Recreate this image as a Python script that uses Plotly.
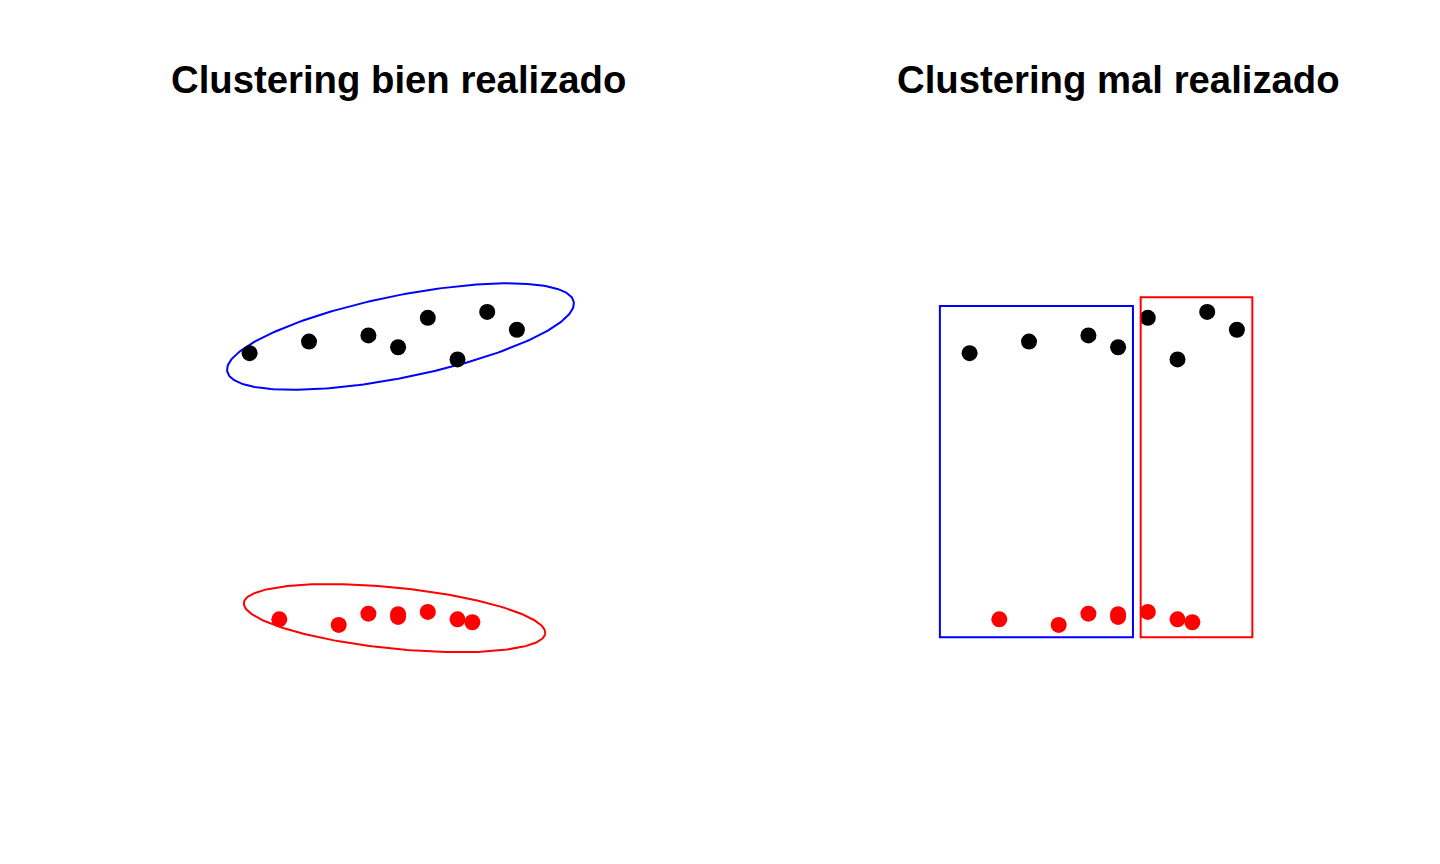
import numpy as np
import plotly.graph_objects as go

# Data
black_x = [1, 3, 5, 6, 7, 8, 9, 10]
black_y = [11.34, 11.73, 11.94, 11.54, 12.53, 11.13, 12.73, 12.13]
red_x = [2, 4, 5, 6, 6, 7, 8, 8.5]
red_y = [2.38, 2.19, 2.57, 2.55, 2.46, 2.63, 2.38, 2.28]

titles = ["Clustering bien realizado", "Clustering mal realizado"]

# Ellipse parameters: center x, center y, semi-major, semi-minor, angle (deg)
ell_blue = (6.08, 11.90, 5.95, 1.38, 11.4)
ell_red = (5.88, 2.42, 5.10, 1.03, -5.8)

# Rectangles: x0, x1, y0, y1
rect_blue = (0.0, 6.5, 1.78, 12.93)
rect_red = (6.76, 10.52, 1.78, 13.22)


def ellipse(cx, cy, a, b, ang):
    t = np.linspace(0, 2 * np.pi, 241)
    th = np.deg2rad(ang)
    x = cx + a * np.cos(th) * np.cos(t) - b * np.sin(th) * np.sin(t)
    y = cy + a * np.sin(th) * np.cos(t) + b * np.cos(th) * np.sin(t)
    return x, y


fig = go.Figure()

# Left panel
for (params, col) in [(ell_blue, "#0000FF"), (ell_red, "#FF0000")]:
    ex, ey = ellipse(*params)
    fig.add_trace(go.Scatter(x=ex, y=ey, mode="lines", line=dict(color=col, width=2),
                             xaxis="x", yaxis="y", showlegend=False, hoverinfo="skip"))
fig.add_trace(go.Scatter(x=black_x, y=black_y, mode="markers",
                         marker=dict(color="black", size=16), xaxis="x", yaxis="y", showlegend=False))
fig.add_trace(go.Scatter(x=red_x, y=red_y, mode="markers",
                         marker=dict(color="#FF0000", size=16), xaxis="x", yaxis="y", showlegend=False))

# Right panel
fig.add_trace(go.Scatter(x=black_x, y=black_y, mode="markers",
                         marker=dict(color="black", size=16), xaxis="x2", yaxis="y2", showlegend=False))
fig.add_trace(go.Scatter(x=red_x, y=red_y, mode="markers",
                         marker=dict(color="#FF0000", size=16), xaxis="x2", yaxis="y2", showlegend=False))

for (r, col) in [(rect_blue, "#0000FF"), (rect_red, "#FF0000")]:
    fig.add_shape(type="rect", x0=r[0], x1=r[1], y0=r[2], y1=r[3], xref="x2", yref="y2",
                  line=dict(color=col, width=2), fillcolor="rgba(0,0,0,0)")

px_per_unit = 29.7
x_left_px = 249.6
xr = [1 - x_left_px / px_per_unit, 1 + (720 - x_left_px) / px_per_unit]
yr = [(690 - 864) / px_per_unit, 690 / px_per_unit]

ax = dict(visible=False, showgrid=False, zeroline=False, fixedrange=True)
fig.update_layout(
    width=1440, height=864,
    margin=dict(l=0, r=0, t=0, b=0),
    paper_bgcolor="white", plot_bgcolor="white",
    xaxis=dict(domain=[0, 0.5], range=xr, **ax),
    yaxis=dict(domain=[0, 1], range=yr, **ax),
    xaxis2=dict(domain=[0.5, 1], range=xr, **ax),
    yaxis2=dict(domain=[0, 1], range=yr, anchor="x2", **ax),
    font=dict(family="Liberation Sans, Arial, sans-serif", color="black"),
)

for i, t in enumerate(titles):
    fig.add_annotation(text="<b>" + t + "</b>", x=(398.5 + 720 * i) / 1440, y=1 - 79 / 864,
                       xref="paper", yref="paper", xanchor="center", yanchor="middle",
                       showarrow=False, font=dict(size=38.3, color="black",
                                                  family="Liberation Sans, Arial, sans-serif"))

fig.write_html("out.html")
